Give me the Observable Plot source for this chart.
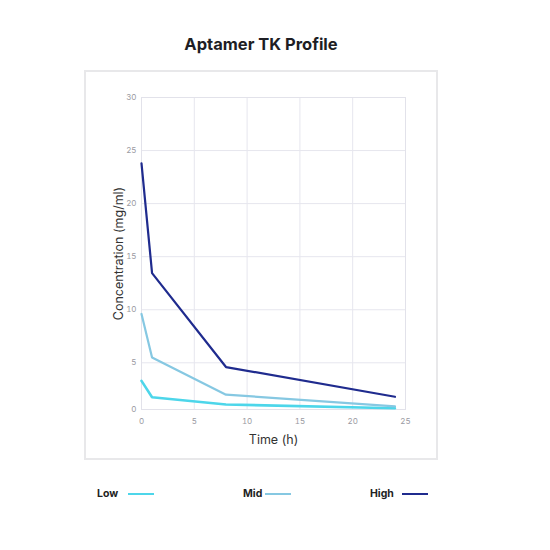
<!DOCTYPE html>
<html>
<head>
<meta charset="utf-8">
<script src="https://cdn.jsdelivr.net/npm/d3@7"></script>
<script src="https://cdn.jsdelivr.net/npm/@observablehq/plot@0.6"></script>
<style>
  html, body { margin: 0; padding: 0; background: #fff; }
  body { width: 550px; height: 550px; position: relative; font-family: Inter, "Noto Sans", sans-serif; overflow: hidden; }
  #title { position: absolute; left: 84px; width: 354px; top: 34px; text-align: center; font-size: 16.5px; font-weight: 700; color: #1e1e24; }
  #frame { position: absolute; left: 84px; top: 70px; width: 350px; height: 386px; border: 2px solid #e8e8ea; }
  #chart { position: absolute; left: 84px; top: 70px; }
  .leg { position: absolute; top: 487px; font-size: 10.5px; font-weight: 700; color: #222; display: flex; align-items: center; }
  .sw { display: inline-block; width: 26px; height: 2.5px; }
</style>
</head>
<body>
<div id="title">Aptamer TK Profile</div>
<div id="frame"></div>
<div id="chart"></div>
<div id="legend"></div>
<script>
const times = [0, 1, 8, 24];
const low = [3.3, 1.75, 1.07, 0.72];
const mid = [9.6, 5.5, 2.0, 0.9];
const high = [23.8, 13.45, 4.6, 1.8];
const seriesNames = ["Low", "Mid", "High"];
const seriesColors = ["#4dd6ea", "#86c8e2", "#1f2b8e"];
const seriesWidths = [2.6, 2.2, 2.2];
const xTicks = [0, 5, 10, 15, 20, 25];
const yTicks = [0.6, 5, 10, 15, 20, 25, 30];

const seriesValues = [low, mid, high];
const rows = [];
seriesNames.forEach((name, i) => {
  times.forEach((t, j) => rows.push({series: name, time: t, value: seriesValues[i][j], w: seriesWidths[i]}));
});

const chart = Plot.plot({
  width: 354,
  height: 390,
  marginLeft: 57,
  marginRight: 33,
  marginTop: 27,
  marginBottom: 51,
  style: {fontFamily: "Inter, 'Noto Sans', sans-serif", background: "transparent"},
  x: {domain: [0, 25], ticks: xTicks, label: null},
  y: {domain: [0.6, 30], ticks: yTicks, label: null},
  color: {domain: seriesNames, range: seriesColors},
  marks: [
    Plot.gridX(xTicks, {stroke: "#e6e6ee", strokeOpacity: 1}),
    Plot.gridY(yTicks.slice(1), {stroke: "#e6e6ee", strokeOpacity: 1}),
    Plot.frame({stroke: "#e2e2ea"}),
    Plot.axisX({ticks: xTicks, tickSize: 0, tickPadding: 9, fontSize: 8, fill: "#9a9aa2",
      label: "Time (h)", labelAnchor: "center", labelOffset: 34, labelArrow: "none"}),
    Plot.axisY({ticks: yTicks, tickSize: 0, tickPadding: 5, fontSize: 8, fill: "#9a9aa2",
      tickFormat: d => d < 1 ? "0" : String(d),
      label: "Concentration (mg/ml)", labelAnchor: "center", labelOffset: 27, labelArrow: "none"}),
    ...seriesNames.map((name, i) =>
      Plot.lineY(rows.filter(r => r.series === name), {x: "time", y: "value", stroke: "series", strokeWidth: seriesWidths[i], strokeLinejoin: "miter"}))
  ]
});
chart.querySelectorAll("g[aria-label='x-axis label'] text, g[aria-label='y-axis label'] text").forEach(t => {
  t.setAttribute("fill", "#333"); t.style.fontSize = "12.5px";
});
document.getElementById("chart").appendChild(chart);

const legendPos = [{text: 97, sw: 128}, {text: 243, sw: 265}, {text: 370, sw: 402}];
const legend = document.getElementById("legend");
seriesNames.forEach((name, i) => {
  const t = document.createElement("div");
  t.className = "leg";
  t.style.left = legendPos[i].text + "px";
  t.textContent = name;
  legend.appendChild(t);
  const s = document.createElement("div");
  s.className = "leg";
  s.style.left = legendPos[i].sw + "px";
  s.style.height = "14px";
  const sw = document.createElement("span");
  sw.className = "sw";
  sw.style.background = seriesColors[i];
  s.appendChild(sw);
  legend.appendChild(s);
});
</script>
</body>
</html>
